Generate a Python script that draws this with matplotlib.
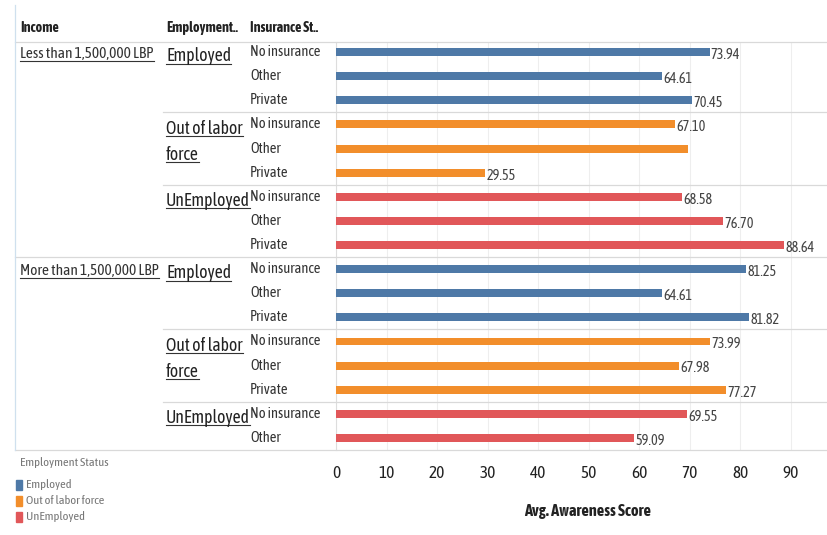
import matplotlib.pyplot as plt
from matplotlib import font_manager as fm
from matplotlib.font_manager import FontProperties
from matplotlib.transforms import blended_transform_factory
from matplotlib.patches import Rectangle

# Data
groups = [
    ('Less than 1,500,000 LBP', 'Employed', ['No insurance', 'Other', 'Private'], [73.94, 64.61, 70.45]),
    ('Less than 1,500,000 LBP', 'Out of labor force', ['No insurance', 'Other', 'Private'], [67.10, 69.70, 29.55]),
    ('Less than 1,500,000 LBP', 'UnEmployed', ['No insurance', 'Other', 'Private'], [68.58, 76.70, 88.64]),
    ('More than 1,500,000 LBP', 'Employed', ['No insurance', 'Other', 'Private'], [81.25, 64.61, 81.82]),
    ('More than 1,500,000 LBP', 'Out of labor force', ['No insurance', 'Other', 'Private'], [73.99, 67.98, 77.27]),
    ('More than 1,500,000 LBP', 'UnEmployed', ['No insurance', 'Other'], [69.55, 59.09]),
]
# bar without a visible label in the original
hidden_labels = {('Less than 1,500,000 LBP', 'Out of labor force', 'Other')}

colors = {'Employed': '#4e79a7', 'Out of labor force': '#f28e2b', 'UnEmployed': '#e15759'}
emp_lines = {'Employed': ['Employed'], 'Out of labor force': ['Out of labor', 'force'],
             'UnEmployed': ['UnEmployed']}

W, H = 827, 535
fig = plt.figure(figsize=(W / 100, H / 100), dpi=100)
fig.canvas.draw()
renderer = fig.canvas.get_renderer()


def measure(s, family, size=10, weight='normal'):
    prop = FontProperties(family=family, size=size, weight=weight)
    return renderer.get_text_width_height_descent(s, prop, ismath=False)


# pick the installed narrow font whose proportions are closest to the reference
names = {f.name for f in fm.fontManager.ttflist}
cands = ['Fira Sans Extra Condensed', 'Open Sans Condensed', 'Ubuntu Condensed', 'PT Sans Narrow',
         'Archivo Narrow', 'Encode Sans Condensed', 'Fira Sans Condensed', 'Barlow Condensed',
         'Asap Condensed', 'Sofia Sans Condensed', 'IBM Plex Sans Condensed', 'Roboto Condensed',
         'Liberation Sans Narrow', 'DejaVu Sans']
best, best_err = 'DejaVu Sans', 1e9
for c in cands:
    if c not in names:
        continue
    w = measure('No insurance', c)[0]
    h = measure('H', c)[1]
    err = abs(w / h - 5.8)
    if err < best_err:
        best, best_err = c, err
FONT = best
FAM = [FONT, 'DejaVu Sans']
plt.rcParams['font.family'] = FAM


def fit(s, width_px, weight='normal'):
    # font size that gives the text the width seen in the reference
    return 10 * width_px / measure(s, FAM, 10, weight)[0]


fs_ins = fit('No insurance', 71)
fs_inc = fit('Less than 1,500,000 LBP', 132)
fs_emp = fit('Out of labor', 77)
fs_head = fit('Insurance St..', 68, 'bold')
fs_val = fit('73.94', 29)
fs_tick = fit('90', 16)
fs_title = fit('Avg. Awareness Score', 126, 'bold')
fs_leg = fit('Out of labor force', 79)

# plot area (pixels from top: 42 .. 450, x: 336 .. 827)
ax = fig.add_axes([336 / W, 1 - 450 / H, (W - 336) / W, (450 - 42) / H])

rows = []
for inc, emp, ins_list, vals in groups:
    for ins, v in zip(ins_list, vals):
        rows.append((inc, emp, ins, v))
ypos = list(range(len(rows)))

ax.barh(ypos, [r[3] for r in rows], height=0.33,
        color=[colors[r[1]] for r in rows], zorder=3)
for y, r in zip(ypos, rows):
    if (r[0], r[1], r[2]) in hidden_labels:
        continue
    ax.text(r[3] + 0.25, y + 0.12, f'{r[3]:.2f}', va='center', ha='left',
            fontsize=fs_val, color='#444444', zorder=4)

ax.set_xlim(0, 97.2)
ax.set_ylim(16.5, -0.42)
ax.set_xticks(range(0, 100, 10))
ax.set_yticks([])
ax.grid(axis='x', color='#eeeeee', linewidth=0.8, zorder=0)
ax.tick_params(axis='x', length=0, labelsize=fs_tick, pad=11, colors='#222222')
for s in ['top', 'right', 'bottom']:
    ax.spines[s].set_visible(False)
ax.spines['left'].set_color('#dddddd')

# table text, x in figure fraction, y in row units
tr = blended_transform_factory(fig.transFigure, ax.transData)
px = lambda x: x / W

for y, r in zip(ypos, rows):
    fig.text(px(250), y, r[2], transform=tr, ha='left', va='center',
             fontsize=fs_ins, color='#333333')


def underlined(x, y, s, fontsize, **kw):
    t = fig.text(x, y, s, transform=tr, fontsize=fontsize, va='baseline', **kw)
    bb = t.get_window_extent(renderer)
    w = measure(s, FAM, fontsize)[0]
    yb = tr.transform((x, y))[1] - 2.5
    fig.add_artist(plt.Line2D([bb.x0, bb.x0 + w], [yb, yb], transform=None,
                              color='#333333', linewidth=0.8))
    return t


start = 0
for inc, emp, ins_list, vals in groups:
    if emp == 'Employed':
        underlined(px(20), start + 0.25, inc, fs_inc, ha='left', color='#333333')
    for k, ln in enumerate(emp_lines[emp]):
        underlined(px(166), start + 0.38 + 1.08 * k, ln, fs_emp, ha='left', color='#222222')
    start += len(vals)

# separators
start = 0
for inc, emp, ins_list, vals in groups:
    start += len(vals)
    x0 = px(15) if emp == 'UnEmployed' else px(163)
    fig.add_artist(plt.Line2D([x0, 1], [start - 0.5, start - 0.5], transform=tr,
                              color='#d9d9d9', linewidth=0.9))
fig.add_artist(plt.Line2D([px(15), 1], [1 - 42 / H, 1 - 42 / H],
                          color='#d9d9d9', linewidth=0.9))
fig.add_artist(plt.Line2D([px(15), px(15)], [1 - 450 / H, 1 - 5 / H],
                          color='#cfe0ee', linewidth=0.9))

# headers
for x, s in [(20, 'Income'), (166, 'Employment..'), (250, 'Insurance St..')]:
    fig.text(px(x), 1 - 28 / H, s, ha='left', va='center', fontsize=fs_head,
             fontweight='bold', color='#222222')

# axis title
fig.text(px(588), 1 - 511 / H, 'Avg. Awareness Score', ha='center', va='center',
         fontsize=fs_title, fontweight='bold', color='#222222')

# legend
fig.text(px(20), 1 - 462 / H, 'Employment Status', ha='left', va='center',
         fontsize=fs_leg, color='#777777')
for i, (lab, c) in enumerate(colors.items()):
    yc = 485 + 16 * i
    fig.add_artist(Rectangle((px(16), 1 - (yc + 5) / H), 6 / W, 10 / H,
                             transform=fig.transFigure, color=c))
    fig.text(px(26), 1 - yc / H, lab, ha='left', va='center', fontsize=fs_leg,
             color='#777777')

fig.savefig('out.png', dpi=100)
